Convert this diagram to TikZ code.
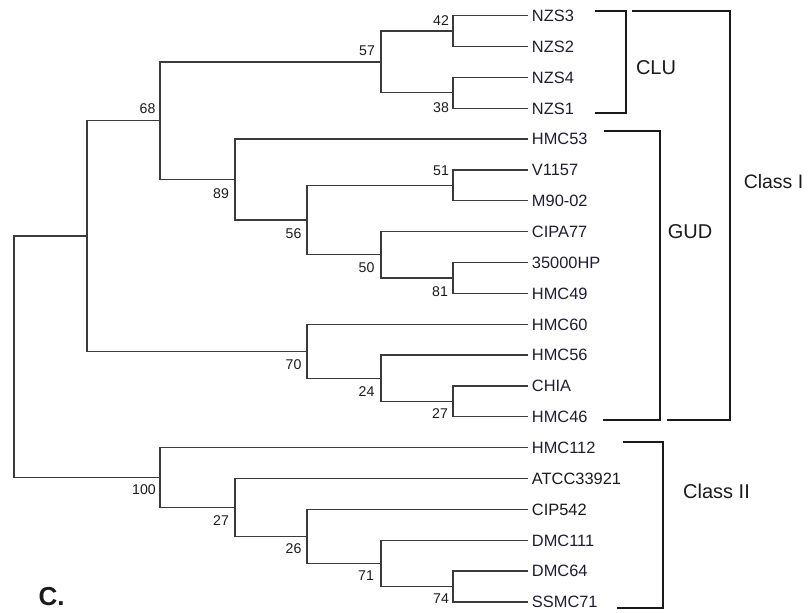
\documentclass[tikz,border=0pt]{standalone}
\usepackage{fontspec}
\setmainfont{Liberation Sans}
\definecolor{treegray}{HTML}{3A3A3A}
\definecolor{leafink}{HTML}{1E1E30}
\definecolor{brk}{HTML}{1A1A1A}
\begin{document}
\begin{tikzpicture}[x=0.75pt,y=-0.75pt,
  edge/.style={draw=treegray, line width=0.95pt},
  leaf/.style={anchor=west, inner xsep=3pt, inner ysep=0pt, text height=8.8pt, text depth=0pt,
     font=\fontsize{12.3pt}{14pt}\selectfont, text=leafink},
  bs/.style={inner sep=0pt, font=\fontsize{10.6pt}{12pt}\selectfont, text=brk},
  bracket/.style={draw=brk, line width=1.6pt},
  grp/.style={inner sep=0pt, font=\fontsize{15pt}{18pt}\selectfont, text=brk}]
\useasboundingbox (0,0) rectangle (812,612);
% leaves
\node[leaf] (NZS3) at (527.7,15.7) {NZS3};
\node[leaf] (NZS2) at (527.7,46.55) {NZS2};
\node[leaf] (NZS4) at (527.7,77.4) {NZS4};
\node[leaf] (NZS1) at (527.7,108.25) {NZS1};
\node[leaf] (HMC53) at (527.7,139.1) {HMC53};
\node[leaf] (V1157) at (527.7,169.95) {V1157};
\node[leaf] (M9002) at (527.7,200.8) {M90-02};
\node[leaf] (CIPA77) at (527.7,231.65) {CIPA77};
\node[leaf] (HP) at (527.7,262.5) {35000HP};
\node[leaf] (HMC49) at (527.7,293.35) {HMC49};
\node[leaf] (HMC60) at (527.7,324.2) {HMC60};
\node[leaf] (HMC56) at (527.7,355.05) {HMC56};
\node[leaf] (CHIA) at (527.7,385.9) {CHIA};
\node[leaf] (HMC46) at (527.7,416.75) {HMC46};
\node[leaf] (HMC112) at (527.7,447.6) {HMC112};
\node[leaf,text=brk] (ATCC) at (527.7,478.45) {ATCC33921};
\node[leaf,text=brk] (CIP542) at (527.7,509.3) {CIP542};
\node[leaf] (DMC111) at (527.7,540.15) {DMC111};
\node[leaf] (DMC64) at (527.7,571.0) {DMC64};
\node[leaf] (SSMC71) at (527.7,601.85) {SSMC71};
% internal nodes
\coordinate (n42) at (453,31.1);
\coordinate (n38) at (453,92.8);
\coordinate (n57) at (381,62.0);
\coordinate (n51) at (453,185.4);
\coordinate (n81) at (453,277.9);
\coordinate (n50) at (381,254.8);
\coordinate (n56) at (307,220.1);
\coordinate (n89) at (235,179.6);
\coordinate (n68) at (160,120.8);
\coordinate (n27a) at (453,401.3);
\coordinate (n24) at (381,378.2);
\coordinate (n70) at (307,351.2);
\coordinate (nI) at (87,236.0);
\coordinate (n74) at (453,586.4);
\coordinate (n71) at (381,563.3);
\coordinate (n26) at (307,536.3);
\coordinate (n27b) at (235,507.4);
\coordinate (n100) at (160,477.5);
\coordinate (root) at (14,356.8);
% edges
\draw[edge] (NZS3.west) -| (n42) |- (NZS2.west);
\draw[edge] (NZS4.west) -| (n38) |- (NZS1.west);
\draw[edge] (n42) -| (n57) |- (n38);
\draw[edge] (V1157.west) -| (n51) |- (M9002.west);
\draw[edge] (HP.west) -| (n81) |- (HMC49.west);
\draw[edge] (CIPA77.west) -| (n50) |- (n81);
\draw[edge] (n51) -| (n56) |- (n50);
\draw[edge] (HMC53.west) -| (n89) |- (n56);
\draw[edge] (n57) -| (n68) |- (n89);
\draw[edge] (CHIA.west) -| (n27a) |- (HMC46.west);
\draw[edge] (HMC56.west) -| (n24) |- (n27a);
\draw[edge] (HMC60.west) -| (n70) |- (n24);
\draw[edge] (n68) -| (nI) |- (n70);
\draw[edge] (DMC64.west) -| (n74) |- (SSMC71.west);
\draw[edge] (DMC111.west) -| (n71) |- (n74);
\draw[edge] (CIP542.west) -| (n26) |- (n71);
\draw[edge] (ATCC.west) -| (n27b) |- (n26);
\draw[edge] (HMC112.west) -| (n100) |- (n27b);
\draw[edge] (nI) -| (root) |- (n100);
% bootstrap values
\node[bs] at (367,51) {57};
\node[bs] at (147.5,109) {68};
\node[bs] at (221,194) {89};
\node[bs] at (441,20.5) {42};
\node[bs] at (441,108) {38};
\node[bs] at (441,171) {51};
\node[bs] at (293.5,234) {56};
\node[bs] at (366.5,268) {50};
\node[bs] at (440,291.5) {81};
\node[bs] at (293.5,364.5) {70};
\node[bs] at (366.5,392) {24};
\node[bs] at (440,414) {27};
\node[bs] at (144,490) {100};
\node[bs] at (221,521) {27};
\node[bs] at (293.5,549) {26};
\node[bs] at (366,576) {71};
\node[bs] at (441,599) {74};
% brackets
\draw[bracket] (595,10.7) -- (625.7,10.7) -- (625.7,113.3) -- (595,113.3);
\draw[bracket] (604,131) -- (660,131) -- (660,420) -- (602.7,420);
\draw[bracket] (631.7,10.7) -- (730,10.7) -- (730,420) -- (667,420);
\draw[bracket] (623,441.7) -- (663,441.7) -- (663,608.3) -- (617,608.3);
% group labels
\node[grp] at (656,68) {CLU};
\node[grp] at (690,231.5) {GUD};
\node[grp,font=\fontsize{14.6pt}{17pt}\selectfont] at (773.5,182) {Class I};
\node[grp] at (716.5,491.5) {Class II};
\node[inner sep=0pt, font=\fontsize{19.5pt}{22pt}\selectfont\bfseries, text=brk] at (51.5,596.5) {C.};
\end{tikzpicture}
\end{document}
